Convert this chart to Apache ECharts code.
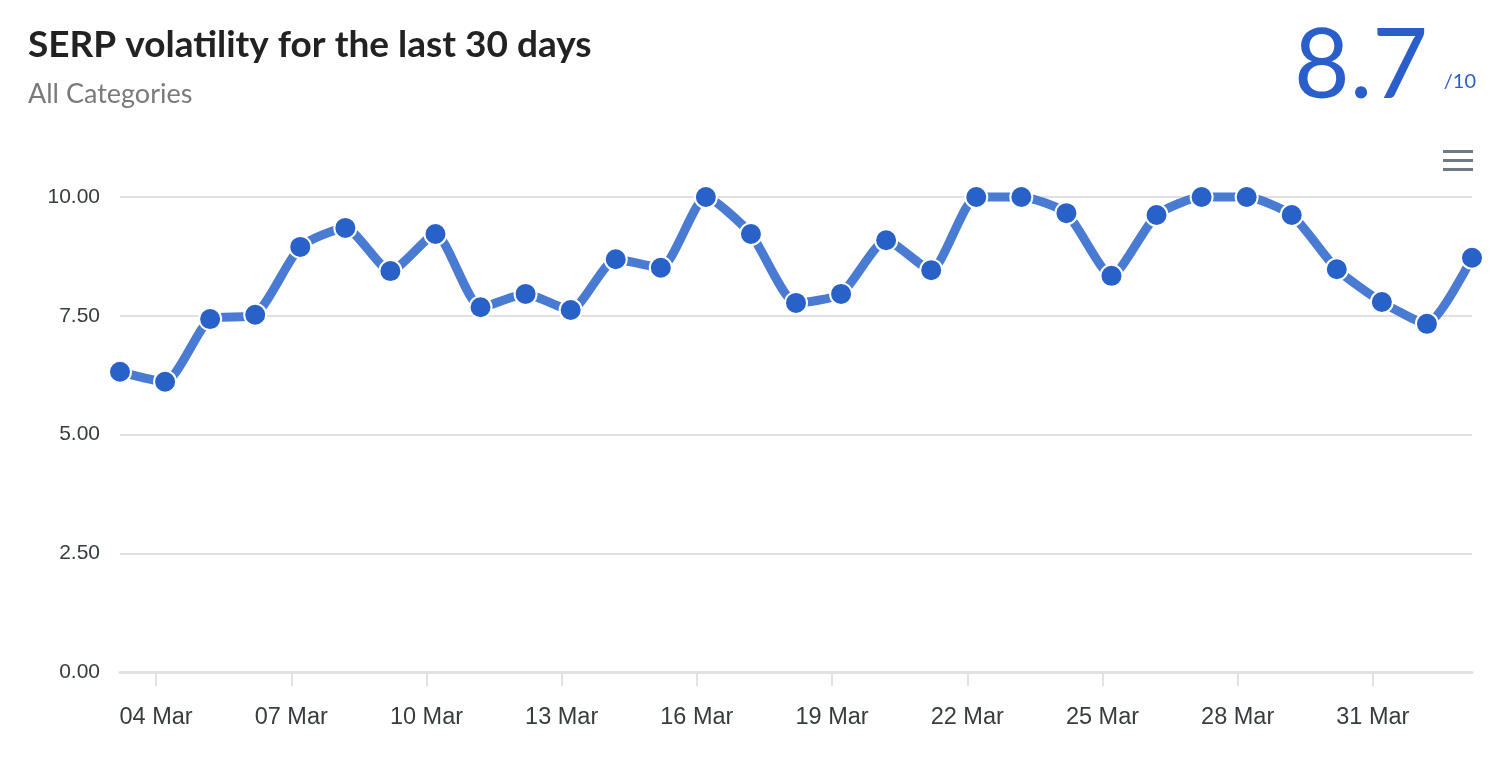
<!DOCTYPE html>
<html>
<head>
<meta charset="utf-8">
<script src="https://cdn.jsdelivr.net/npm/echarts@6/dist/echarts.min.js"></script>
<style>
  html, body { margin: 0; padding: 0; background: #fff; }
  #main { width: 1502px; height: 758px; }
</style>
</head>
<body>
<div id="main"></div>
<script>
// one point per day, 03 Mar .. 02 Apr
var days = ['03 Mar', '04 Mar', '05 Mar', '06 Mar', '07 Mar', '08 Mar', '09 Mar', '10 Mar',
  '11 Mar', '12 Mar', '13 Mar', '14 Mar', '15 Mar', '16 Mar', '17 Mar', '18 Mar', '19 Mar',
  '20 Mar', '21 Mar', '22 Mar', '23 Mar', '24 Mar', '25 Mar', '26 Mar', '27 Mar', '28 Mar',
  '29 Mar', '30 Mar', '31 Mar', '01 Apr', '02 Apr'];
var volatility = [6.32, 6.11, 7.43, 7.52, 8.95, 9.35, 8.44, 9.22, 7.68, 7.96, 7.62, 8.69, 8.51,
  10.0, 9.22, 7.77, 7.96, 9.09, 8.46, 10.0, 10.0, 9.66, 8.34, 9.62, 10.0, 10.0, 9.62, 8.48,
  7.79, 7.33, 8.72];
// ticks every 3 days, at midnight (index into days)
var tickDays = [1, 4, 7, 10, 13, 16, 19, 22, 25, 28];
var tickLabels = ['04 Mar', '07 Mar', '10 Mar', '13 Mar', '16 Mar', '19 Mar', '22 Mar', '25 Mar', '28 Mar', '31 Mar'];
var score = '8.7';
var scoreMax = '/10';

// points were sampled a few hours after midnight
var sampleOffset = 0.2;

var seriesData = volatility.map(function (v, i) { return [i + sampleOffset, v]; });

var myChart = echarts.init(document.getElementById('main'));
myChart.setOption({
  animation: false,
  grid: { left: 120, right: 30, top: 197, bottom: 86 },
  xAxis: {
    type: 'value',
    min: sampleOffset,
    max: days.length - 1 + sampleOffset,
    splitLine: { show: false },
    axisLine: { show: true, lineStyle: { color: '#e2e2e2', width: 3 } },
    axisTick: {
      show: true,
      customValues: tickDays,
      length: 14,
      lineStyle: { color: '#e2e2e2', width: 2 }
    },
    axisLabel: {
      customValues: tickDays,
      margin: 34,
      fontSize: 23.5,
      color: '#373d3f',
      fontFamily: 'Liberation Sans, Arial, sans-serif',
      formatter: function (v) {
        var k = tickDays.indexOf(Math.round(v));
        return k >= 0 ? tickLabels[k] : '';
      }
    }
  },
  yAxis: {
    type: 'value',
    min: 0,
    max: 10,
    interval: 2.5,
    axisLine: { show: false },
    axisTick: { show: false },
    splitLine: {
      lineStyle: { color: '#e0e0e0', width: 2 },
      showMinLine: false
    },
    axisLabel: {
      margin: 20,
      fontSize: 21,
      color: '#373d3f',
      fontFamily: 'Liberation Sans, Arial, sans-serif',
      formatter: function (v) { return v.toFixed(2); }
    }
  },
  series: [
    {
      type: 'line',
      data: seriesData,
      smooth: 0.2,
      clip: false,
      symbol: 'circle',
      symbolSize: 22,
      lineStyle: { color: '#4a7bd3', width: 9 },
      itemStyle: { color: '#2862c9', borderColor: '#ffffff', borderWidth: 2 }
    }
  ],
  graphic: [
    {
      type: 'text', left: 28, top: 27,
      style: {
        text: 'SERP volatility for the last 30 days',
        fontSize: 37, fontWeight: 'bold', fontFamily: 'Lato, sans-serif', fill: '#222222'
      }
    },
    {
      type: 'text', left: 28, top: 81,
      style: {
        text: 'All Categories',
        fontSize: 27, fontFamily: 'Lato, sans-serif', fill: '#7a7a7a'
      }
    },
    {
      type: 'text', right: 74, top: 19,
      style: {
        text: score,
        fontSize: 96, fontWeight: 'normal', fontFamily: 'Lato, sans-serif', fill: '#2a5fcb'
      }
    },
    {
      type: 'text', right: 26, top: 72,
      style: {
        text: scoreMax,
        fontSize: 20, fontFamily: 'Lato, sans-serif', fill: '#2a5fcb'
      }
    },
    { type: 'rect', left: 1443, top: 150, shape: { width: 30, height: 3 }, style: { fill: '#6e7888' } },
    { type: 'rect', left: 1443, top: 159, shape: { width: 30, height: 3 }, style: { fill: '#6e7888' } },
    { type: 'rect', left: 1443, top: 168, shape: { width: 30, height: 3 }, style: { fill: '#6e7888' } }
  ]
});
</script>
</body>
</html>
